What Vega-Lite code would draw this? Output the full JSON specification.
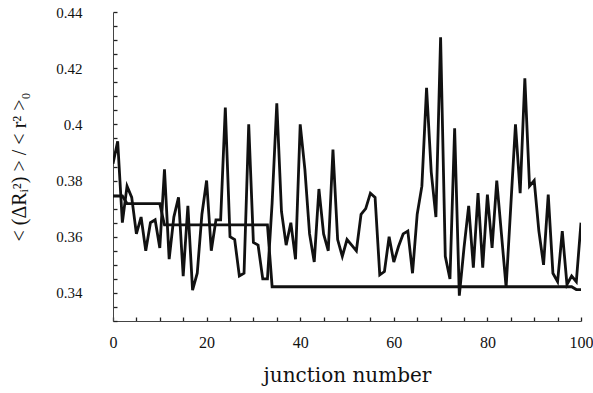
{
  "$schema": "https://vega.github.io/schema/vega-lite/v6.json",
  "width": 468,
  "height": 309,
  "autosize": {"type": "none"},
  "padding": {"left": 113, "top": 12, "right": 12, "bottom": 72},
  "background": "white",
  "config": {
    "view": {"stroke": null},
    "axis": {
      "grid": false,
      "domainColor": "#444",
      "domainWidth": 1,
      "tickColor": "#222",
      "tickWidth": 1.3,
      "labelFont": "Liberation Serif",
      "labelColor": "#111",
      "titleFont": "Liberation Serif",
      "titleColor": "#111",
      "titleFontWeight": "normal"
    }
  },
  "datasets": {
    "series": [
      {"x": 0, "value": 0.386, "series": "junction"},
      {"x": 1, "value": 0.394, "series": "junction"},
      {"x": 2, "value": 0.365, "series": "junction"},
      {"x": 3, "value": 0.378, "series": "junction"},
      {"x": 4, "value": 0.374, "series": "junction"},
      {"x": 5, "value": 0.361, "series": "junction"},
      {"x": 6, "value": 0.367, "series": "junction"},
      {"x": 7, "value": 0.355, "series": "junction"},
      {"x": 8, "value": 0.365, "series": "junction"},
      {"x": 9, "value": 0.366, "series": "junction"},
      {"x": 10, "value": 0.356, "series": "junction"},
      {"x": 11, "value": 0.384, "series": "junction"},
      {"x": 12, "value": 0.352, "series": "junction"},
      {"x": 13, "value": 0.367, "series": "junction"},
      {"x": 14, "value": 0.374, "series": "junction"},
      {"x": 15, "value": 0.346, "series": "junction"},
      {"x": 16, "value": 0.371, "series": "junction"},
      {"x": 17, "value": 0.341, "series": "junction"},
      {"x": 18, "value": 0.347, "series": "junction"},
      {"x": 19, "value": 0.368, "series": "junction"},
      {"x": 20, "value": 0.380, "series": "junction"},
      {"x": 21, "value": 0.355, "series": "junction"},
      {"x": 22, "value": 0.366, "series": "junction"},
      {"x": 23, "value": 0.366, "series": "junction"},
      {"x": 24, "value": 0.406, "series": "junction"},
      {"x": 25, "value": 0.360, "series": "junction"},
      {"x": 26, "value": 0.359, "series": "junction"},
      {"x": 27, "value": 0.346, "series": "junction"},
      {"x": 28, "value": 0.347, "series": "junction"},
      {"x": 29, "value": 0.400, "series": "junction"},
      {"x": 30, "value": 0.358, "series": "junction"},
      {"x": 31, "value": 0.357, "series": "junction"},
      {"x": 32, "value": 0.345, "series": "junction"},
      {"x": 33, "value": 0.345, "series": "junction"},
      {"x": 34, "value": 0.372, "series": "junction"},
      {"x": 35, "value": 0.4075, "series": "junction"},
      {"x": 36, "value": 0.369, "series": "junction"},
      {"x": 37, "value": 0.357, "series": "junction"},
      {"x": 38, "value": 0.365, "series": "junction"},
      {"x": 39, "value": 0.352, "series": "junction"},
      {"x": 40, "value": 0.400, "series": "junction"},
      {"x": 41, "value": 0.384, "series": "junction"},
      {"x": 42, "value": 0.361, "series": "junction"},
      {"x": 43, "value": 0.351, "series": "junction"},
      {"x": 44, "value": 0.377, "series": "junction"},
      {"x": 45, "value": 0.361, "series": "junction"},
      {"x": 46, "value": 0.355, "series": "junction"},
      {"x": 47, "value": 0.391, "series": "junction"},
      {"x": 48, "value": 0.359, "series": "junction"},
      {"x": 49, "value": 0.353, "series": "junction"},
      {"x": 50, "value": 0.359, "series": "junction"},
      {"x": 51, "value": 0.357, "series": "junction"},
      {"x": 52, "value": 0.355, "series": "junction"},
      {"x": 53, "value": 0.368, "series": "junction"},
      {"x": 54, "value": 0.370, "series": "junction"},
      {"x": 55, "value": 0.3755, "series": "junction"},
      {"x": 56, "value": 0.374, "series": "junction"},
      {"x": 57, "value": 0.3464, "series": "junction"},
      {"x": 58, "value": 0.3476, "series": "junction"},
      {"x": 59, "value": 0.360, "series": "junction"},
      {"x": 60, "value": 0.351, "series": "junction"},
      {"x": 61, "value": 0.3565, "series": "junction"},
      {"x": 62, "value": 0.361, "series": "junction"},
      {"x": 63, "value": 0.362, "series": "junction"},
      {"x": 64, "value": 0.347, "series": "junction"},
      {"x": 65, "value": 0.368, "series": "junction"},
      {"x": 66, "value": 0.378, "series": "junction"},
      {"x": 67, "value": 0.413, "series": "junction"},
      {"x": 68, "value": 0.383, "series": "junction"},
      {"x": 69, "value": 0.367, "series": "junction"},
      {"x": 70, "value": 0.431, "series": "junction"},
      {"x": 71, "value": 0.353, "series": "junction"},
      {"x": 72, "value": 0.345, "series": "junction"},
      {"x": 73, "value": 0.3986, "series": "junction"},
      {"x": 74, "value": 0.339, "series": "junction"},
      {"x": 75, "value": 0.356, "series": "junction"},
      {"x": 76, "value": 0.371, "series": "junction"},
      {"x": 77, "value": 0.349, "series": "junction"},
      {"x": 78, "value": 0.3755, "series": "junction"},
      {"x": 79, "value": 0.349, "series": "junction"},
      {"x": 80, "value": 0.375, "series": "junction"},
      {"x": 81, "value": 0.356, "series": "junction"},
      {"x": 82, "value": 0.380, "series": "junction"},
      {"x": 83, "value": 0.361, "series": "junction"},
      {"x": 84, "value": 0.342, "series": "junction"},
      {"x": 85, "value": 0.371, "series": "junction"},
      {"x": 86, "value": 0.400, "series": "junction"},
      {"x": 87, "value": 0.3755, "series": "junction"},
      {"x": 88, "value": 0.4164, "series": "junction"},
      {"x": 89, "value": 0.378, "series": "junction"},
      {"x": 90, "value": 0.380, "series": "junction"},
      {"x": 91, "value": 0.362, "series": "junction"},
      {"x": 92, "value": 0.350, "series": "junction"},
      {"x": 93, "value": 0.375, "series": "junction"},
      {"x": 94, "value": 0.347, "series": "junction"},
      {"x": 95, "value": 0.344, "series": "junction"},
      {"x": 96, "value": 0.362, "series": "junction"},
      {"x": 97, "value": 0.343, "series": "junction"},
      {"x": 98, "value": 0.346, "series": "junction"},
      {"x": 99, "value": 0.344, "series": "junction"},
      {"x": 100, "value": 0.365, "series": "junction"},
      {"x": 0, "value": 0.3745, "series": "step"},
      {"x": 2, "value": 0.3745, "series": "step"},
      {"x": 3, "value": 0.3718, "series": "step"},
      {"x": 10, "value": 0.3718, "series": "step"},
      {"x": 11, "value": 0.3642, "series": "step"},
      {"x": 33, "value": 0.3642, "series": "step"},
      {"x": 34, "value": 0.3422, "series": "step"},
      {"x": 98, "value": 0.3422, "series": "step"},
      {"x": 99, "value": 0.3412, "series": "step"},
      {"x": 100, "value": 0.3412, "series": "step"}
    ]
  },
  "data": {"name": "series"},
  "mark": {"type": "line", "color": "#111", "strokeWidth": 2.8, "strokeJoin": "miter", "clip": true},
  "encoding": {
    "x": {
      "field": "x",
      "type": "quantitative",
      "scale": {"domain": [0, 100], "nice": false, "zero": false},
      "axis": {
        "title": "junction number",
        "titleFont": "DejaVu Serif",
        "titleFontSize": 20,
        "titlePadding": 15,
        "values": [0, 5, 10, 15, 20, 25, 30, 35, 40, 45, 50, 55, 60, 65, 70, 75, 80, 85, 90, 95, 100],
        "labelExpr": "datum.value % 20 == 0 ? datum.label : ''",
        "labelFontSize": 16,
        "labelPadding": 17,
        "tickSize": -4,
        "labelFlush": false,
        "labelOverlap": false
      }
    },
    "y": {
      "field": "value",
      "type": "quantitative",
      "scale": {"domain": [0.33, 0.44], "nice": false, "zero": false},
      "axis": {
        "title": "< (ΔRᵢ²) > / < r² >₀",
        "titleFontSize": 20,
        "titlePadding": 26,
        "values": [0.33, 0.335, 0.34, 0.345, 0.35, 0.355, 0.36, 0.365, 0.37, 0.375, 0.38, 0.385, 0.39, 0.395, 0.4, 0.405, 0.41, 0.415, 0.42, 0.425, 0.43, 0.435, 0.44],
        "labelExpr": "abs(datum.value * 50 - round(datum.value * 50)) < 0.001 ? format(datum.value, '.2~f') : ''",
        "labelFontSize": 15,
        "labelPadding": 35,
        "tickSize": -4,
        "labelOverlap": false
      }
    },
    "detail": {"field": "series", "type": "nominal"}
  }
}
